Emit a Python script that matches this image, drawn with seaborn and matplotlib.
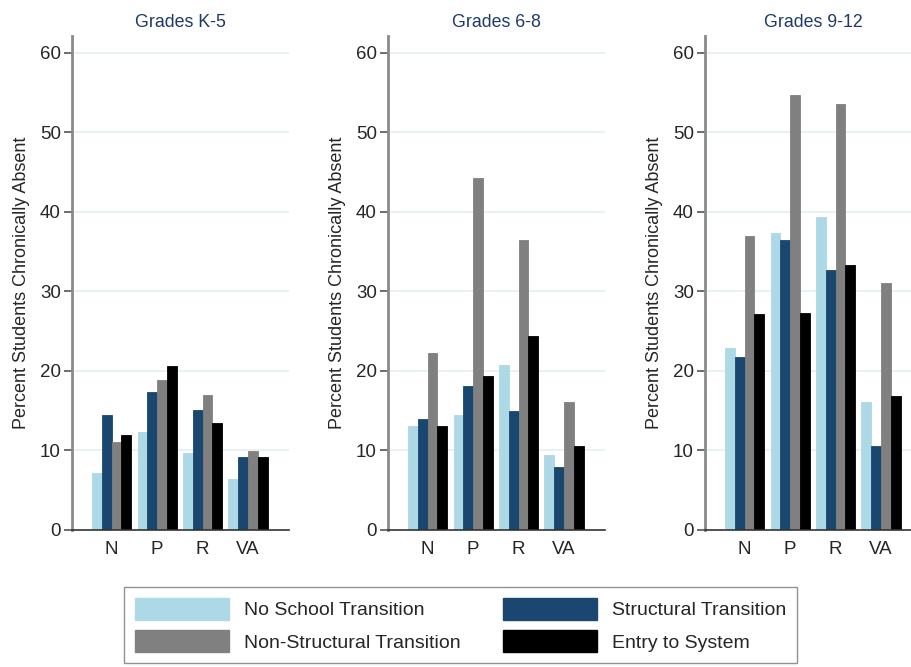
import pandas as pd
import matplotlib.pyplot as plt
import seaborn as sns
from matplotlib.patches import Patch

# bar heights
regions = ['N', 'P', 'R', 'VA']
groups = ['No School Transition', 'Structural Transition', 'Non-Structural Transition', 'Entry to System']
panels = ['Grades K-5', 'Grades 6-8', 'Grades 9-12']

k5_no_school = [7.2, 12.3, 9.7, 6.4]
k5_structural = [14.5, 17.3, 15.1, 9.2]
k5_non_structural = [11.1, 18.9, 17.0, 9.9]
k5_entry = [11.9, 20.6, 13.4, 9.2]

g68_no_school = [13.1, 14.5, 20.8, 9.4]
g68_structural = [13.9, 18.1, 14.9, 7.9]
g68_non_structural = [22.3, 44.2, 36.5, 16.1]
g68_entry = [13.1, 19.4, 24.4, 10.6]

g912_no_school = [22.9, 37.3, 39.4, 16.1]
g912_structural = [21.8, 36.5, 32.7, 10.6]
g912_non_structural = [37.0, 54.7, 53.6, 31.1]
g912_entry = [27.2, 27.3, 33.3, 16.8]

panel_series = {
    'Grades K-5': [k5_no_school, k5_structural, k5_non_structural, k5_entry],
    'Grades 6-8': [g68_no_school, g68_structural, g68_non_structural, g68_entry],
    'Grades 9-12': [g912_no_school, g912_structural, g912_non_structural, g912_entry],
}

colors = ['#add8e6', '#1a476f', '#808080', '#000000']
palette = dict(zip(groups, colors))

rows = []
for p in panels:
    for g, vals in zip(groups, panel_series[p]):
        for r, v in zip(regions, vals):
            rows.append({'panel': p, 'group': g, 'region': r, 'value': v})
df = pd.DataFrame(rows)

sns.set_style('white')
plt.rcParams['font.family'] = ['Liberation Sans', 'DejaVu Sans']

fig = plt.figure(figsize=(9.12, 6.67), dpi=100)
W, H = 912, 667
lefts = [72, 388, 705]

for p, left in zip(panels, lefts):
    ax = fig.add_axes([left / W, (H - 530) / H, 217 / W, 494 / H])
    sns.barplot(data=df[df.panel == p], x='region', y='value', hue='group',
                hue_order=groups, order=regions, palette=palette,
                width=0.86, linewidth=0.6, saturation=1,
                legend=False, ax=ax)
    for patch, c in zip(ax.patches, [c for c in colors for _ in regions]):
        patch.set_edgecolor(c)
    ax.set_ylim(0, 62.1)
    ax.set_xlim(-0.87, 3.9)
    ax.set_yticks(range(0, 61, 10))
    for y in range(10, 61, 10):
        ax.plot([-0.8, 3.9], [y, y], color='#e6f1f4', lw=1.3, zorder=0)
    ax.set_xlabel('')
    ax.set_ylabel('Percent Students Chronically Absent', fontsize=13, labelpad=7)
    ax.set_title(p, fontsize=12.8, color='#1f3a68', pad=6.5)
    ax.tick_params(axis='y', labelsize=13.5, length=6, width=1.2, color='#555555', left=True, pad=2)
    ax.tick_params(axis='x', labelsize=13.5, length=0, pad=8)
    for s in ['top', 'right']:
        ax.spines[s].set_visible(False)
    ax.spines['left'].set_color('#8a8a8a')
    ax.spines['left'].set_linewidth(2)
    ax.spines['bottom'].set_color('#333333')
    ax.spines['bottom'].set_linewidth(1.2)

leg_order = ['No School Transition', 'Non-Structural Transition', 'Structural Transition', 'Entry to System']
handles = [Patch(facecolor=palette[g], edgecolor=palette[g]) for g in leg_order]
leg = fig.legend(handles, leg_order, ncol=2, loc='upper left',
                 bbox_to_anchor=(124 / W, 1 - 587 / H),
                 fontsize=14, handlelength=4.85, handleheight=1.4, handletextpad=0.75,
                 columnspacing=2.2, borderaxespad=0, frameon=True, fancybox=False,
                 borderpad=0.55, labelspacing=0.5)
leg.get_frame().set_edgecolor('#777777')
leg.get_frame().set_linewidth(1)

fig.savefig('out.png', dpi=100, facecolor='white')
